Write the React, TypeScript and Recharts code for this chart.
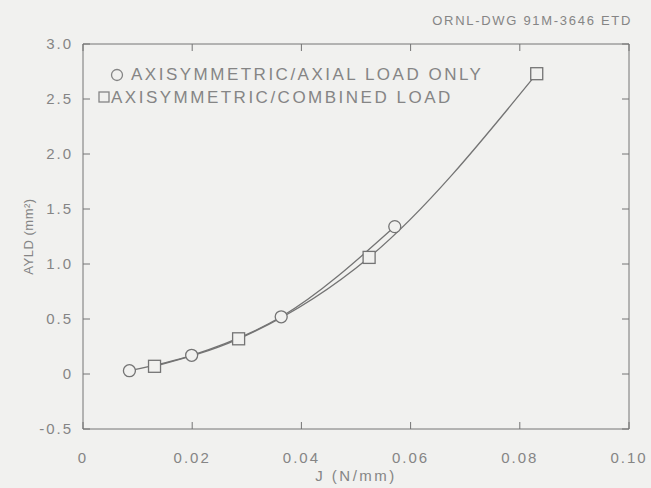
import { LineChart, Line, XAxis, YAxis } from 'recharts'

// J (N/mm) and AYLD (mm^2)
const axialJ = [0.0085, 0.0199, 0.0363, 0.0571]
const axialAyld = [0.03, 0.17, 0.52, 1.34]
const combinedJ = [0.0131, 0.0285, 0.0524, 0.0831]
const combinedAyld = [0.07, 0.32, 1.06, 2.73]

const xTicks = [0, 0.02, 0.04, 0.06, 0.08, 0.1]
const yTicks = [-0.5, 0, 0.5, 1, 1.5, 2, 2.5, 3]

const seriesNames = ['AXISYMMETRIC/AXIAL LOAD ONLY', 'AXISYMMETRIC/COMBINED LOAD']
const drawingId = 'ORNL-DWG 91M-3646 ETD'

const W = 651
const H = 488
const MARGIN = { top: 43, right: 21, bottom: 11, left: 23 }
const Y_AXIS_W = 60
const X_AXIS_H = 48
const PLOT_W = W - MARGIN.left - MARGIN.right - Y_AXIS_W - 1
const PLOT_H = H - MARGIN.top - MARGIN.bottom - X_AXIS_H - 1
const TICK_LEN = 7
const X_GAP = 25
const Y_GAP = 10

const BG = '#f1f1ef'
const INK = '#747474'
const TEXT = '#858585'
const FONT = '"Liberation Sans", Arial, sans-serif'

const axialData = axialJ.map((j, i) => ({ j, ayld: axialAyld[i] }))
const combinedData = combinedJ.map((j, i) => ({ j, ayld: combinedAyld[i] }))

const fmtX = (v: number) => (v === 0 ? '0' : v.toFixed(2))
const fmtY = (v: number) => (v === 0 ? '0' : v.toFixed(1))

// inward ticks on both sides of the box, label outside
function XTick(props: any) {
    const { x, y, payload } = props
    const base = y - X_GAP
    const top = base - PLOT_H
    return (
        <g>
            <line x1={x} x2={x} y1={base} y2={base - TICK_LEN} stroke={INK} />
            <line x1={x} x2={x} y1={top} y2={top + TICK_LEN} stroke={INK} />
            <text x={x} y={y + 9} textAnchor="middle" fill={TEXT} fontSize={15} fontFamily={FONT} letterSpacing={2}>
                {fmtX(payload.value)}
            </text>
        </g>
    )
}

function YTick(props: any) {
    const { x, y, payload } = props
    const base = x + Y_GAP
    const right = base + PLOT_W
    return (
        <g>
            <line x1={base} x2={base + TICK_LEN} y1={y} y2={y} stroke={INK} />
            <line x1={right} x2={right - TICK_LEN} y1={y} y2={y} stroke={INK} />
            <text x={x} y={y + 5} textAnchor="end" fill={TEXT} fontSize={15} fontFamily={FONT} letterSpacing={2}>
                {fmtY(payload.value)}
            </text>
        </g>
    )
}

function SquareDot(props: any) {
    const { cx, cy, index } = props
    if (cx == null || cy == null) return null
    return (
        <rect
            key={`sq-${index}`}
            x={cx - 6}
            y={cy - 6}
            width={12}
            height={12}
            fill={BG}
            stroke={INK}
            strokeWidth={1.3}
        />
    )
}

function LegendBox() {
    const rowStyle = {
        position: 'absolute' as const,
        height: 22,
        lineHeight: '22px',
        fontSize: 17,
        letterSpacing: 2.5,
        color: TEXT,
        fontFamily: FONT,
        whiteSpace: 'nowrap' as const,
    }
    return (
        <>
            <svg style={{ position: 'absolute', left: 0, top: 0 }} width={W} height={H}>
                <circle cx={117} cy={75} r={5.5} fill="none" stroke={TEXT} strokeWidth={1.3} />
                <rect x={99} y={92} width={10} height={10} fill="none" stroke={TEXT} strokeWidth={1.3} />
            </svg>
            <div style={{ ...rowStyle, left: 131, top: 64 }}>{seriesNames[0]}</div>
            <div style={{ ...rowStyle, left: 111, top: 87 }}>{seriesNames[1]}</div>
        </>
    )
}

export default function App() {
    return (
        <div style={{ position: 'absolute', left: 0, top: 0, width: W, height: H, background: BG }}>
            <LineChart width={W} height={H} margin={MARGIN}>
                <XAxis
                    dataKey="j"
                    type="number"
                    domain={[0, 0.1]}
                    ticks={xTicks}
                    allowDataOverflow
                    height={X_AXIS_H}
                    tickSize={0}
                    tickMargin={X_GAP}
                    tickLine={false}
                    stroke={INK}
                    tick={<XTick />}
                    interval={0}
                    label={{ value: 'J (N/mm)', position: 'center', dy: 23, fill: TEXT, fontSize: 15, fontFamily: FONT, letterSpacing: 2.5 }}
                />
                <XAxis
                    xAxisId="top"
                    orientation="top"
                    dataKey="j"
                    type="number"
                    domain={[0, 0.1]}
                    ticks={xTicks}
                    allowDataOverflow
                    height={1}
                    tickLine={false}
                    stroke={INK}
                    tick={false}
                />
                <YAxis
                    type="number"
                    domain={[-0.5, 3]}
                    ticks={yTicks}
                    allowDataOverflow
                    width={Y_AXIS_W}
                    tickSize={0}
                    tickMargin={Y_GAP}
                    tickLine={false}
                    stroke={INK}
                    tick={<YTick />}
                    interval={0}
                    label={{ value: 'AYLD (mm²)', angle: -90, position: 'center', dx: -25, fill: TEXT, fontSize: 13, fontFamily: FONT, letterSpacing: 0.5 }}
                />
                <YAxis
                    yAxisId="right"
                    orientation="right"
                    type="number"
                    domain={[-0.5, 3]}
                    ticks={yTicks}
                    allowDataOverflow
                    width={1}
                    tickLine={false}
                    stroke={INK}
                    tick={false}
                />
                <Line
                    data={axialData}
                    dataKey="ayld"
                    type="monotone"
                    stroke={INK}
                    strokeWidth={1.3}
                    dot={{ r: 6, fill: BG, stroke: INK, strokeWidth: 1.3 }}
                    isAnimationActive={false}
                />
                <Line
                    data={combinedData}
                    dataKey="ayld"
                    type="monotone"
                    stroke={INK}
                    strokeWidth={1.3}
                    dot={SquareDot}
                    isAnimationActive={false}
                />
            </LineChart>
            <LegendBox />
            <div
                style={{
                    position: 'absolute',
                    right: 19,
                    top: 13,
                    fontSize: 13,
                    letterSpacing: 1.7,
                    color: TEXT,
                    fontFamily: FONT,
                }}
            >
                {drawingId}
            </div>
        </div>
    )
}
